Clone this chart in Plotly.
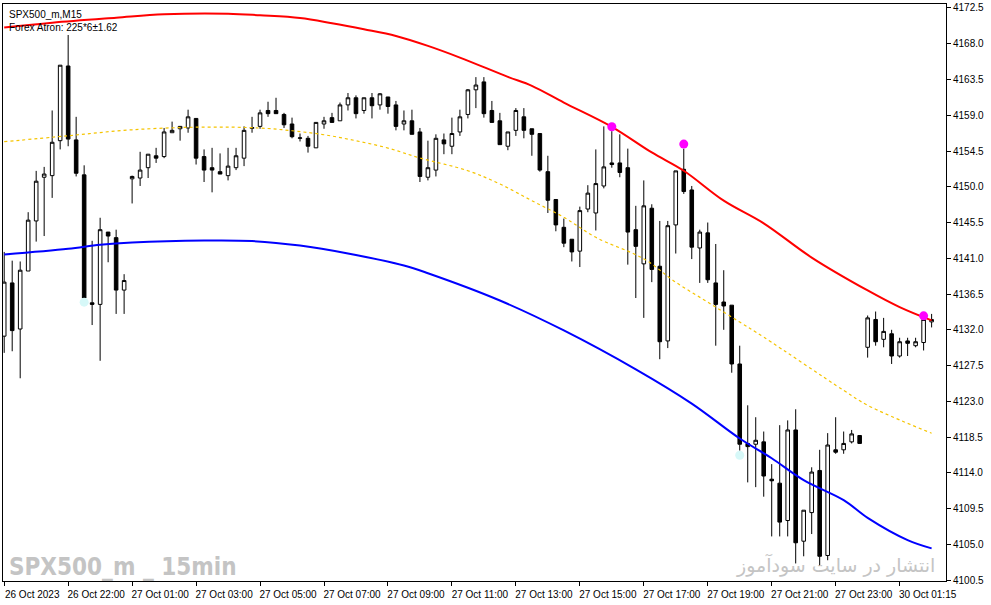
import plotly.graph_objects as go

# 15 min candles, index 0 = 26 Oct 2023 20:00
opens = [4131.2, 4137.9, 4132.1, 4139.4, 4145.7, 4151.2, 4151.4, 4155.8, 4165.2, 4155.9,
         4151.5, 4135.4, 4135.2, 4144.3, 4143.6, 4137.0, 4151.0, 4151.1, 4152.4, 4153.9,
         4153.8, 4156.8, 4157.3, 4157.4, 4158.6, 4153.8, 4152.4, 4151.9, 4151.4, 4152.4,
         4153.6, 4157.35, 4157.6, 4159.6, 4159.6, 4159.1, 4157.9, 4156.1, 4156.1, 4154.9,
         4157.9, 4158.7, 4158.3, 4160.3, 4161.2, 4159.6, 4161.2, 4160.3, 4161.3, 4160.3,
         4157.9, 4158.3, 4156.9, 4151.2, 4152.1, 4155.9, 4155.1, 4156.9, 4159.1, 4162.2,
         4163.2, 4159.6, 4158.3, 4155.1, 4157.1, 4158.8, 4157.3, 4156.7, 4151.9, 4148.4,
         4144.9, 4143.4, 4141.9, 4147.2, 4146.7, 4150.1, 4153.0, 4153.0, 4152.4, 4144.6,
         4140.3, 4147.3, 4140.0, 4130.6, 4145.2, 4152.2, 4149.6, 4142.3, 4144.2, 4137.9,
         4135.5, 4135.1, 4127.7, 4117.7, 4117.6, 4117.9, 4113.2, 4112.7, 4108.0, 4119.4,
         4105.4, 4109.0, 4114.3, 4103.6, 4116.9, 4116.9, 4117.9, 4118.7, 4129.8, 4133.3,
         4130.8, 4131.5, 4128.7, 4130.6, 4130.0, 4130.4, 4133.0]
highs = [4141.8, 4140.7, 4140.6, 4146.8, 4152.0, 4152.5, 4159.6, 4165.3, 4169.1, 4158.8,
         4152.7, 4143.2, 4146.1, 4144.3, 4144.6, 4139.0, 4151.4, 4154.4, 4154.1, 4154.9,
         4157.4, 4158.2, 4157.6, 4159.7, 4158.6, 4154.7, 4154.9, 4154.2, 4154.9, 4154.9,
         4157.6, 4158.8, 4159.7, 4160.7, 4161.2, 4159.3, 4158.7, 4156.7, 4156.4, 4158.1,
         4158.8, 4159.3, 4160.6, 4161.8, 4161.5, 4161.2, 4161.8, 4161.8, 4161.3, 4160.8,
         4159.6, 4159.7, 4157.4, 4155.8, 4156.6, 4156.7, 4158.7, 4159.7, 4162.3, 4163.8,
         4163.8, 4160.8, 4159.3, 4156.9, 4159.9, 4159.9, 4157.3, 4156.7, 4153.9, 4148.4,
         4146.0, 4143.4, 4147.5, 4150.2, 4154.7, 4157.6, 4157.0, 4156.6, 4154.8, 4147.6,
         4150.8, 4147.8, 4145.7, 4145.7, 4152.0, 4154.8, 4150.1, 4144.6, 4145.5, 4142.8,
         4139.5, 4135.1, 4130.0, 4122.5, 4121.0, 4119.2, 4115.1, 4120.0, 4120.6, 4122.0,
         4109.3, 4114.7, 4116.9, 4119.0, 4121.0, 4119.2, 4119.4, 4118.7, 4133.8, 4134.3,
         4133.5, 4132.0, 4131.0, 4131.0, 4131.0, 4133.4, 4134.0]
lows = [4129.1, 4129.3, 4125.9, 4139.4, 4143.1, 4143.8, 4148.6, 4154.7, 4155.1, 4151.3,
        4136.0, 4132.6, 4128.1, 4140.5, 4134.0, 4134.0, 4147.9, 4150.1, 4151.1, 4153.0,
        4153.6, 4156.8, 4155.8, 4156.8, 4152.8, 4150.6, 4149.3, 4151.6, 4150.8, 4152.1,
        4152.6, 4156.8, 4157.3, 4158.8, 4159.2, 4157.4, 4156.1, 4155.7, 4154.3, 4154.9,
        4157.3, 4158.1, 4158.3, 4159.6, 4158.6, 4159.2, 4158.6, 4159.7, 4159.2, 4157.1,
        4157.1, 4156.6, 4150.6, 4150.8, 4151.3, 4154.1, 4154.1, 4156.4, 4158.6, 4159.9,
        4158.7, 4158.1, 4155.3, 4154.6, 4156.4, 4156.1, 4153.9, 4151.9, 4146.7, 4144.4,
        4142.4, 4140.6, 4139.9, 4146.8, 4144.5, 4149.8, 4152.4, 4151.2, 4140.2, 4136.0,
        4133.5, 4138.0, 4128.3, 4129.7, 4141.6, 4149.1, 4140.9, 4137.9, 4137.9, 4130.0,
        4132.0, 4126.6, 4116.8, 4112.8, 4112.2, 4111.0, 4106.0, 4106.0, 4106.0, 4102.6,
        4103.5, 4106.3, 4102.3, 4103.0, 4116.4, 4116.4, 4117.7, 4117.7, 4128.5, 4130.0,
        4129.8, 4127.7, 4128.5, 4128.7, 4129.8, 4129.4, 4132.3]
closes = [4138.0, 4131.9, 4139.5, 4145.8, 4150.7, 4151.6, 4155.6, 4165.3, 4156.0, 4151.7,
          4136.0, 4135.2, 4144.6, 4143.8, 4137.0, 4138.2, 4151.3, 4152.1, 4154.1, 4153.6,
          4156.9, 4157.1, 4157.6, 4158.8, 4153.6, 4152.1, 4152.1, 4151.6, 4152.6, 4153.9,
          4157.1, 4157.45, 4159.3, 4159.2, 4159.2, 4157.8, 4156.3, 4156.15, 4155.1, 4158.1,
          4158.3, 4158.1, 4160.3, 4161.2, 4159.2, 4161.2, 4160.2, 4161.7, 4160.1, 4157.6,
          4158.3, 4156.6, 4151.3, 4152.4, 4156.1, 4155.4, 4156.7, 4158.8, 4162.2, 4162.8,
          4159.2, 4158.1, 4155.3, 4156.9, 4159.6, 4157.1, 4156.6, 4152.1, 4148.3, 4145.2,
          4142.9, 4141.8, 4147.0, 4149.2, 4150.4, 4152.5, 4152.8, 4151.8, 4144.3, 4142.5,
          4147.6, 4139.6, 4130.5, 4145.1, 4152.0, 4149.4, 4142.4, 4144.3, 4138.3, 4135.2,
          4135.0, 4127.7, 4117.6, 4117.3, 4118.1, 4113.6, 4113.0, 4107.8, 4119.4, 4105.2,
          4109.3, 4114.1, 4103.5, 4117.5, 4116.6, 4117.7, 4118.9, 4117.7, 4133.5, 4130.5,
          4131.8, 4128.7, 4130.5, 4130.3, 4130.5, 4133.3, 4133.3]
bar_idx = list(range(len(opens)))

# Forex Atron bands
upper_idx = [0, 6, 14, 20, 28, 32, 37, 41, 45, 49, 53, 57, 63, 66, 70, 76, 81, 85, 90, 95, 101, 108, 112, 116]
upper_val = [4170.03, 4170.65, 4171.28, 4171.71, 4171.78, 4171.58, 4171.24, 4170.58, 4169.82, 4168.98,
             4167.73, 4166.26, 4163.83, 4162.70, 4160.60, 4157.55, 4154.32, 4152.02, 4148.25, 4145.40,
             4141.09, 4136.95, 4134.85, 4133.18]
mid_idx = [0, 8, 16, 25, 32, 36, 40, 44, 48, 52, 58, 62, 66, 70, 74, 80, 84, 88, 92, 95, 105, 108, 116]
mid_val = [4155.67, 4156.42, 4157.17, 4157.51, 4157.39, 4157.05, 4156.55, 4155.79, 4154.87, 4153.62,
           4152.02, 4150.35, 4148.25, 4146.16, 4143.64, 4140.93, 4137.99, 4135.48, 4132.97, 4131.08,
           4124.38, 4122.50, 4118.98]
lower_idx = [0, 8, 12, 16, 25, 31, 37, 43, 50, 53, 62, 70, 79, 86, 92, 96, 100, 105, 108, 113, 116]
lower_val = [4141.47, 4142.19, 4142.69, 4142.98, 4143.23, 4143.17, 4142.60, 4141.60, 4140.09, 4139.12,
             4135.69, 4131.92, 4127.02, 4122.71, 4118.32, 4115.84, 4113.08, 4110.57, 4108.34, 4105.54,
             4104.50]

# signal dots
sell_idx = [76, 85, 115]
sell_val = [4157.55, 4155.37, 4133.76]
buy_idx = [10, 92]
buy_val = [4135.48, 4116.22]

tick_idx = [0, 8, 16, 24, 32, 40, 48, 56, 64, 72, 80, 88, 96, 104, 112]
tick_text = ["26 Oct 2023", "26 Oct 22:00", "27 Oct 01:00", "27 Oct 03:00", "27 Oct 05:00",
             "27 Oct 07:00", "27 Oct 09:00", "27 Oct 11:00", "27 Oct 13:00", "27 Oct 15:00",
             "27 Oct 17:00", "27 Oct 19:00", "27 Oct 21:00", "27 Oct 23:00", "30 Oct 01:15"]
price_ticks = [4100.5, 4105.0, 4109.5, 4114.0, 4118.5, 4123.0, 4127.5, 4132.0, 4136.5,
               4141.0, 4145.5, 4150.0, 4154.5, 4159.0, 4163.5, 4168.0, 4172.5]

font = "Liberation Sans, Arial, sans-serif"

fig = go.Figure()
fig.add_trace(go.Scatter(x=mid_idx, y=mid_val, mode="lines", line_shape="spline",
                         line=dict(color="#F5C400", width=1.2, dash="dot")))
fig.add_trace(go.Scatter(x=upper_idx, y=upper_val, mode="lines", line_shape="spline",
                         line=dict(color="#FF0000", width=2)))
fig.add_trace(go.Scatter(x=lower_idx, y=lower_val, mode="lines", line_shape="spline",
                         line=dict(color="#0000FF", width=2)))
fig.add_trace(go.Candlestick(
    x=bar_idx, open=opens, high=highs, low=lows, close=closes,
    increasing=dict(line=dict(color="black", width=1), fillcolor="white"),
    decreasing=dict(line=dict(color="black", width=1), fillcolor="black"),
    whiskerwidth=0))
fig.add_trace(go.Scatter(x=sell_idx, y=sell_val, mode="markers",
                         marker=dict(color="#FF00FF", size=9)))
fig.add_trace(go.Scatter(x=buy_idx, y=buy_val, mode="markers",
                         marker=dict(color="#D6F8F8", size=9)))

fig.update_layout(
    width=991, height=605,
    margin=dict(l=2, r=45, t=2, b=24),
    paper_bgcolor="white", plot_bgcolor="white",
    showlegend=False, hovermode=False,
    boxgap=0.36,
    font=dict(family=font, size=10, color="black"),
    xaxis=dict(range=[-0.15, 117.8], rangeslider=dict(visible=False),
               showgrid=False, zeroline=False, showline=True, linecolor="black",
               linewidth=1, mirror=True, ticks="outside", ticklen=4, tickcolor="black",
               tickvals=tick_idx, ticktext=tick_text, ticklabelshift=28,
               ticklabelstandoff=0, tickfont=dict(family=font, size=10)),
    yaxis=dict(side="right", range=[4100.39, 4173.0], showgrid=False, zeroline=False,
               showline=True, linecolor="black", linewidth=1, mirror=True,
               ticks="outside", ticklen=4, tickcolor="black",
               tickvals=price_ticks, ticktext=["%.1f" % v for v in price_ticks],
               tickfont=dict(family=font, size=10)),
)

fig.add_annotation(xref="paper", yref="paper", x=0, y=1, xanchor="left", yanchor="top",
                   xshift=4, yshift=-3, text="SPX500_m,M15", showarrow=False,
                   font=dict(family=font, size=10, color="black"))
fig.add_annotation(xref="paper", yref="paper", x=0, y=1, xanchor="left", yanchor="top",
                   xshift=4, yshift=-16, text="Forex Atron: 225*6±1.62", showarrow=False,
                   font=dict(family=font, size=10, color="black"))
fig.add_annotation(xref="paper", yref="paper", x=0, y=0, xanchor="left", yanchor="bottom",
                   xshift=4, yshift=-2, text="<b>SPX500_m _ 15min</b>", showarrow=False,
                   font=dict(family="DejaVu Sans Condensed, Liberation Sans Narrow, Liberation Sans, sans-serif",
                             size=24, color="#C4C4C4"))
fig.add_annotation(xref="paper", yref="paper", x=1, y=0, xanchor="right", yanchor="bottom",
                   xshift=-9, yshift=2, text="انتشار در سایت سودآموز", showarrow=False,
                   font=dict(family="DejaVu Sans, sans-serif", size=19, color="#C4C4C4"))

fig.write_html("out.html", config={"displayModeBar": False},
               post_script="document.body.style.margin='0';")
